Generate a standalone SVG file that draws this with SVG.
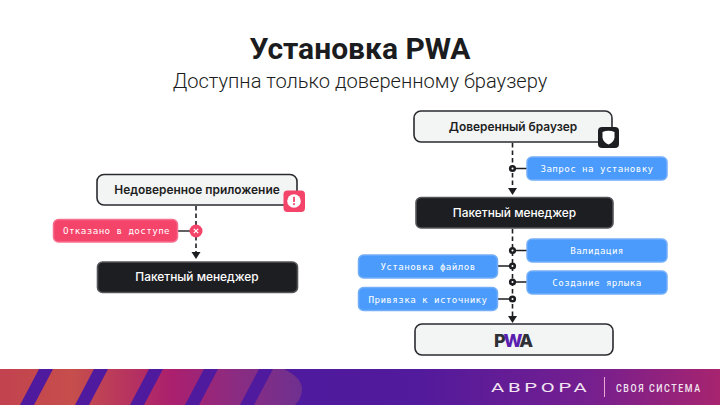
<svg xmlns="http://www.w3.org/2000/svg" width="720" height="405" viewBox="0 0 720 405">
<style>
.t{font-family:"Roboto",sans-serif;text-anchor:middle;fill:#1b1c20}
.n{font-family:"Inter","Liberation Sans",sans-serif;font-size:11.9px;font-weight:600;text-anchor:middle}
.light{fill:#f3f4f4;stroke:#2a2b2f;stroke-width:1.6}
.dark{fill:#1d1e22;stroke:#55565a;stroke-width:1.6}
.pill{stroke-width:1.5}
.blue{fill:#4a9bfb;stroke:#73aff9}
.red{fill:#f5446a;stroke:#f76f8f}
.m{font-family:"DejaVu Sans Mono","Liberation Mono",monospace;font-size:9.2px;text-anchor:middle;fill:#fff;letter-spacing:.42px}
.dash{stroke:#1d1e22;stroke-width:1.6;stroke-dasharray:4.500 3;fill:none}
.line{stroke:#1d1e22;stroke-width:1.4;fill:none}
.dot{fill:#fff;stroke:#1d1e22;stroke-width:2.600}
</style>
<defs>
<linearGradient id="g" x1="0" y1="0" x2="720" y2="0" gradientUnits="userSpaceOnUse">
<stop offset="0" stop-color="#c2424f"/><stop offset=".1" stop-color="#c64e4c"/><stop offset=".24" stop-color="#ab1f6e"/><stop offset=".33" stop-color="#8a2c82"/><stop offset=".42" stop-color="#6f3090"/>
</linearGradient>
<linearGradient id="h" x1="290" y1="0" x2="720" y2="0" gradientUnits="userSpaceOnUse">
<stop offset="0" stop-color="#4f1a9e"/><stop offset=".3" stop-color="#521a9c"/><stop offset=".7" stop-color="#761f8f"/><stop offset="1" stop-color="#a7246f"/>
</linearGradient>
</defs>
<rect width="720" height="405" fill="#fff"/>
<g id="title">
<text class="t" x="360" y="59" font-size="30" font-weight="700">Установка PWA</text>
<text class="t" x="360" y="87.500" font-size="20.100" font-weight="300">Доступна только доверенному браузеру</text>
</g>
<g id="connectors">
<path class="dash" d="M196 206V252"/><path d="M191.500 252H200.500L196 259Z" fill="#1d1e22"/>
<path class="line" d="M178 231H190"/>
<path class="dash" d="M512.500 143V188"/><path d="M508 188H517L512.500 195Z" fill="#1d1e22"/>
<path class="dash" d="M512.500 229V316"/><path d="M508 316H517L512.500 323Z" fill="#1d1e22"/>
<path class="line" d="M513 168.500H527M513 250.500H527M498 266H513M513 282H527M498 299H513"/>
<circle class="dot" cx="512.500" cy="168.500" r="2.300"/>
<circle class="dot" cx="512.500" cy="250.500" r="2.300"/>
<circle class="dot" cx="512.500" cy="266" r="2.300"/>
<circle class="dot" cx="512.500" cy="282" r="2.300"/>
<circle class="dot" cx="512.500" cy="299" r="2.300"/>
</g>
<g id="node-untrusted">
<rect class="light" x="97" y="174.500" width="200" height="30.500" rx="7"/>
<text class="n" x="197" y="194" fill="#1d1e22">Недоверенное приложение</text>
<rect x="283.500" y="190.500" width="21.500" height="21.500" rx="4" fill="#f5446a"/>
<circle cx="294" cy="201" r="6.800" fill="#fff"/>
<rect x="293.100" y="196.800" width="1.800" height="5.200" fill="#f5446a"/><rect x="293.100" y="203.200" width="1.800" height="1.800" fill="#f5446a"/>
</g>
<g id="node-denied">
<rect class="pill red" x="53.500" y="219.500" width="124" height="22.500" rx="5"/>
<text class="m" x="116.500" y="234.200">Отказано в доступе</text>
<circle cx="196" cy="231" r="6.500" fill="#f5446a"/>
<path d="M193.800 228.800L198.200 233.200M198.200 228.800L193.800 233.200" stroke="#fff" stroke-width="1.200"/>
</g>
<g id="node-pm-left">
<rect class="dark" x="97.500" y="262" width="200" height="30.500" rx="5"/>
<text class="n" x="197" y="281" fill="#fff" style="font-weight:500">Пакетный менеджер</text>
</g>
<g id="node-browser">
<rect class="light" x="414" y="111" width="198" height="31" rx="7"/>
<text class="n" x="513" y="130.500" fill="#1d1e22">Доверенный браузер</text>
<rect x="598" y="127" width="21" height="21" rx="4" fill="#1d1e22"/>
<path d="M602.500 132Q608.500 129.500 614.500 132V137.500Q614 142 608.500 144.500Q603 142 602.500 137.500Z" fill="#fff"/>
</g>
<g id="node-request">
<rect class="pill blue" x="527" y="157" width="140" height="23" rx="5"/>
<text class="m" x="597" y="172">Запрос на установку</text>
</g>
<g id="node-pm-right">
<rect class="dark" x="416" y="197.500" width="197" height="30.500" rx="5"/>
<text class="n" x="514.500" y="216.500" fill="#fff" style="font-weight:500">Пакетный менеджер</text>
</g>
<g id="node-validation">
<rect class="pill blue" x="527" y="239" width="140" height="23" rx="5"/>
<text class="m" x="597" y="254">Валидация</text>
</g>
<g id="node-install">
<rect class="pill blue" x="358.500" y="255" width="139" height="23" rx="5"/>
<text class="m" x="428" y="270">Установка файлов</text>
</g>
<g id="node-shortcut">
<rect class="pill blue" x="527" y="271" width="140" height="23" rx="5"/>
<text class="m" x="597" y="286">Создание ярлыка</text>
</g>
<g id="node-bind">
<rect class="pill blue" x="358.500" y="287.500" width="139" height="23" rx="5"/>
<text class="m" x="428" y="302.500">Привязка к источнику</text>
</g>
<g id="node-pwa">
<rect class="light" x="415" y="324" width="198" height="31" rx="7"/>
<text x="512.500" y="346.500" font-family="Inter,'Liberation Sans',sans-serif" font-size="18" font-weight="800" text-anchor="middle" letter-spacing="-2" fill="#2f3036">P<tspan fill="#5a1fb0">W</tspan>A</text>
</g>
<g id="footer">
<rect y="369" width="720" height="36" fill="url(#h)"/>
<path d="M0 369H284Q302 378 302 389Q302 398 295 405H0Z" fill="url(#g)"/>
<g fill="#4f1a9e">
<path d="M39 369H53L34 405H20Z"/><path d="M94 369H108L89 405H75Z"/><path d="M149 369H163L144 405H130Z"/><path d="M204 369H218L199 405H185Z"/><path d="M259 369H273L254 405H240Z"/>
</g>
<text transform="translate(491 392) scale(1.5 1)" font-family="Roboto,sans-serif" font-size="13.500" fill="#f3e6f2" letter-spacing="2.500">АВРОРА</text>
<rect x="604" y="377" width="1" height="20" fill="#e9a9d0"/>
<text transform="translate(616 392) scale(.8 1)" font-family="Roboto,sans-serif" font-size="11" fill="#f3e6f2" letter-spacing="2" font-weight="500">СВОЯ СИСТЕМА</text>
</g>
</svg>
